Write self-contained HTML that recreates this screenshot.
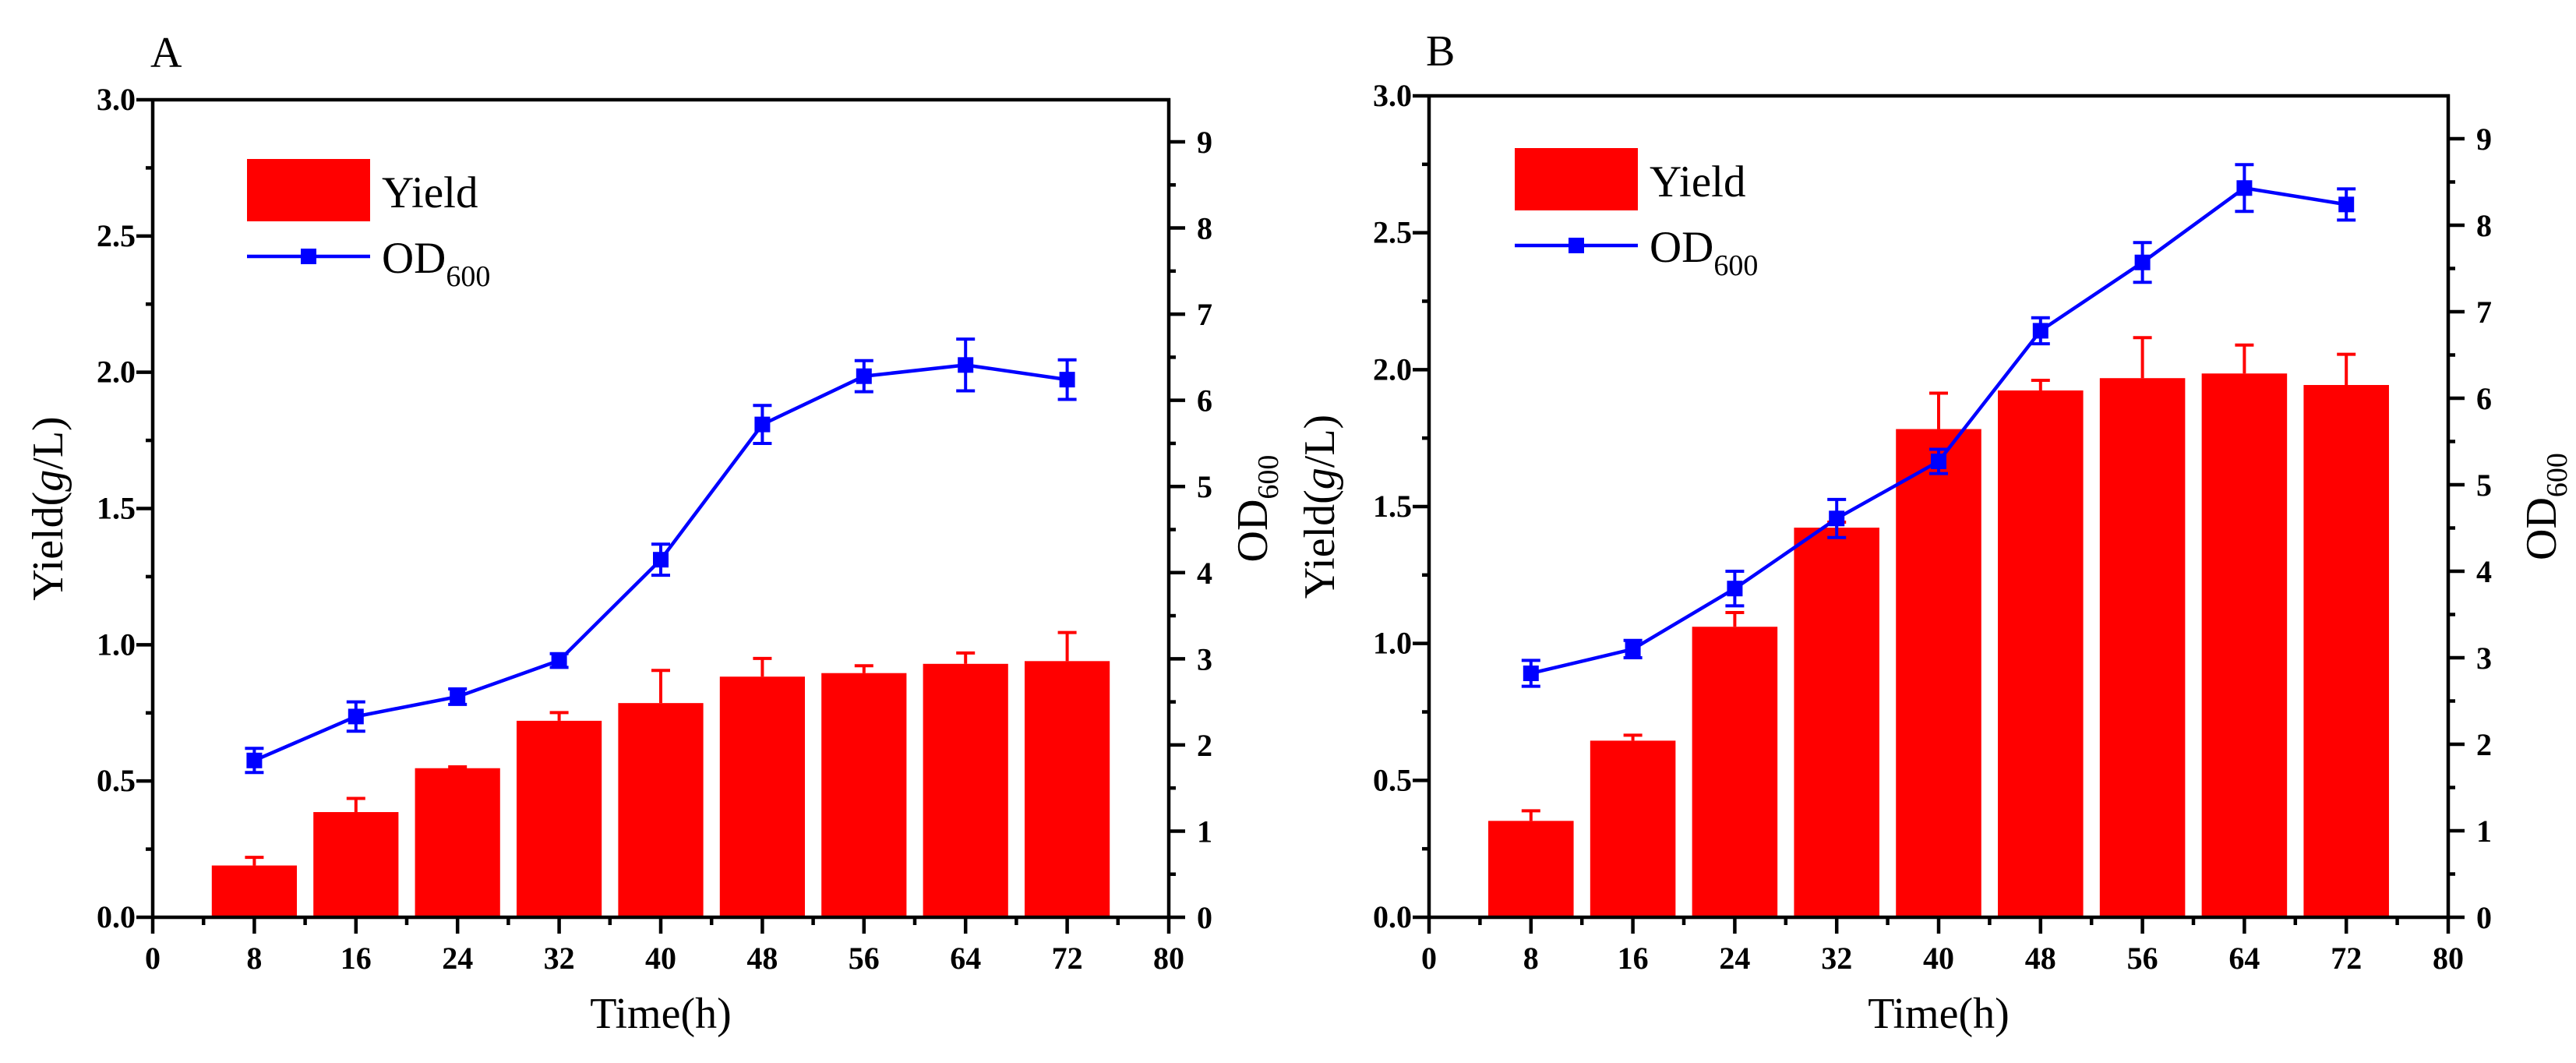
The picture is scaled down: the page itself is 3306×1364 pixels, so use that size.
<!DOCTYPE html>
<html><head><meta charset="utf-8"><style>
html,body{margin:0;padding:0;background:#fff;}
svg{display:block;}
text{font-family:"Liberation Serif",serif;fill:#000;}
.tk{font-weight:bold;font-size:40px;}
.ttl{font-size:56px;}
.leg{font-size:57px;}
</style></head><body>
<svg id="fig" width="3306" height="1364" viewBox="0 0 3306 1364" xmlns="http://www.w3.org/2000/svg"></svg>
<script>
const times = [8,16,24,32,40,48,56,64,72];
const yieldA = [0.19,0.386,0.547,0.721,0.786,0.883,0.896,0.930,0.940];
const yieldErrA = [0.03,0.05,0.005,0.03,0.12,0.067,0.027,0.04,0.105];
const odA = [1.82,2.33,2.56,2.98,4.15,5.72,6.28,6.41,6.24];
const odErrA = [0.14,0.17,0.09,0.08,0.18,0.22,0.18,0.30,0.23];
const yieldB = [0.352,0.645,1.061,1.423,1.783,1.924,1.969,1.986,1.944];
const yieldErrB = [0.037,0.02,0.052,0.02,0.131,0.037,0.148,0.104,0.112];
const odB = [2.82,3.10,3.80,4.61,5.27,6.78,7.57,8.43,8.24];
const odErrB = [0.15,0.10,0.20,0.22,0.14,0.15,0.23,0.27,0.18];
const xTicks = [0,8,16,24,32,40,48,56,64,72,80];
const yTicks = ["0.0","0.5","1.0","1.5","2.0","2.5","3.0"];
const odTicks = [0,1,2,3,4,5,6,7,8,9];

const NS="http://www.w3.org/2000/svg";
const svg=document.getElementById('fig');
function mk(tag,attrs,parent){const e=document.createElementNS(NS,tag);for(const k in attrs)e.setAttribute(k,attrs[k]);(parent||svg).appendChild(e);return e;}

function panel(cfg){
  const g=mk('g',{});
  
  
  const x0=cfg.x0,x1=cfg.x1,yb=cfg.yb,yt=cfg.yt;
  const xs=v=>x0+(x1-x0)*v/80;
  const ys=v=>yb-v*(yb-yt)/3;
  const yo=v=>yb-v*(yb-cfg.y9)/9;
  const bw=(x1-x0)*6.7/80;
  times.forEach((t,i)=>{
    const v=cfg.yv[i],e=cfg.ye[i];
    const eb=mk('g',{},g);
    
    
    mk('line',{x1:xs(t),x2:xs(t),y1:ys(v),y2:ys(v+e),stroke:'#ff0000','stroke-width':4},eb);
    mk('line',{x1:xs(t)-12,x2:xs(t)+12,y1:ys(v+e),y2:ys(v+e),stroke:'#ff0000','stroke-width':4},eb);
    const r=mk('rect',{x:xs(t)-bw/2,y:ys(v),width:bw,height:yb-ys(v),fill:'#ff0000'},g);
    
    
  });
  const pts=times.map((t,i)=>xs(t)+','+yo(cfg.ov[i])).join(' ');
  const pl=mk('polyline',{points:pts,fill:'none',stroke:'#0000ff','stroke-width':4.5},g);
  
  
  times.forEach((t,i)=>{
    const v=cfg.ov[i],e=cfg.oe[i];
    const eb=mk('g',{},g);
    
    
    mk('line',{x1:xs(t),x2:xs(t),y1:yo(v-e),y2:yo(v+e),stroke:'#0000ff','stroke-width':4},eb);
    mk('line',{x1:xs(t)-12,x2:xs(t)+12,y1:yo(v+e),y2:yo(v+e),stroke:'#0000ff','stroke-width':4},eb);
    mk('line',{x1:xs(t)-12,x2:xs(t)+12,y1:yo(v-e),y2:yo(v-e),stroke:'#0000ff','stroke-width':4},eb);
    const m=mk('rect',{x:xs(t)-10,y:yo(v)-10,width:20,height:20,fill:'#0000ff'},g);
    
    
  });
  const ax=mk('g',{stroke:'#000','stroke-width':4.5,fill:'none'},g);
  
  
  mk('line',{x1:x0,x2:x1+2,y1:yt,y2:yt},ax);
  mk('line',{x1:x0-2,x2:x1+2,y1:yb,y2:yb},ax);
  mk('line',{x1:x0,x2:x0,y1:yt-2,y2:yb+2},ax);
  mk('line',{x1:x1,x2:x1,y1:yt-2,y2:yb+2},ax);
  for(let v=0;v<=80;v+=4){const maj=v%8===0;mk('line',{x1:xs(v),x2:xs(v),y1:yb,y2:yb+(maj?21:10)},ax);}
  xTicks.forEach(v=>{const t=mk('text',{x:xs(v),y:yb+66,'text-anchor':'middle',class:'tk'},g);t.textContent=v;
    });
  for(let k=0;k<=12;k++){const v=k*0.25;const maj=k%2===0;mk('line',{x1:x0,x2:x0-(maj?21:9),y1:ys(v),y2:ys(v)},ax);}
  yTicks.forEach(s=>{const t=mk('text',{x:x0-22,y:ys(parseFloat(s))+13,'text-anchor':'end',class:'tk'},g);t.textContent=s;
    });
  for(let k=0;k<=18;k++){const v=k*0.5;const maj=k%2===0;mk('line',{x1:x1,x2:x1+(maj?21:9),y1:yo(v),y2:yo(v)},ax);}
  odTicks.forEach(v=>{const t=mk('text',{x:x1+36,y:yo(v)+14,'text-anchor':'start',class:'tk'},g);t.textContent=v;
    });
  let t=mk('text',{x:(x0+x1)/2,y:yb+142,'text-anchor':'middle',class:'ttl'},g);t.textContent='Time(h)';
  
  t=mk('text',{x:0,y:0,'text-anchor':'middle',class:'ttl',transform:`translate(${cfg.ylx},${(yt+yb)/2}) rotate(-90)`},g);
  t.innerHTML='Yield(<tspan font-style="italic">g</tspan>/L)';
  
  t=mk('text',{x:0,y:0,'text-anchor':'middle',class:'ttl',transform:`translate(${cfg.yrx},${(yt+yb)/2}) rotate(-90)`},g);
  t.innerHTML='OD<tspan font-size="38" dy="14">600</tspan>';
  
  t=mk('text',{x:cfg.lx,y:cfg.ly,class:'ttl'},g);t.textContent=cfg.id;t.setAttribute('font-size','56');
  
  const L=mk('g',{},g);
  const lx=cfg.legx,ly=cfg.legy;
  const e1=mk('g',{},L);
  mk('rect',{x:lx,y:ly,width:158,height:80,fill:'#ff0000'},e1);
  t=mk('text',{x:lx+173,y:ly+62,class:'leg'},e1);t.textContent='Yield';
  const e2=mk('g',{},L);
  mk('line',{x1:lx,x2:lx+158,y1:ly+125,y2:ly+125,stroke:'#0000ff','stroke-width':4.5},e2);
  mk('rect',{x:lx+69,y:ly+115,width:20,height:20,fill:'#0000ff'},e2);
  t=mk('text',{x:lx+173,y:ly+146,class:'leg'},e2);t.innerHTML='OD<tspan font-size="38" dy="17">600</tspan>';
}
panel({id:'A',x0:196,x1:1500,yb:1177,yt:128,y9:182,yv:yieldA,ye:yieldErrA,ov:odA,oe:odErrA,ylx:80,yrx:1626,lx:193,ly:86,legx:317,legy:204});
panel({id:'B',x0:1834,x1:3142,yb:1177,yt:123,y9:178,yv:yieldB,ye:yieldErrB,ov:odB,oe:odErrB,ylx:1712,yrx:3280,lx:1830,ly:84,legx:1944,legy:190});
</script>
</body></html>
